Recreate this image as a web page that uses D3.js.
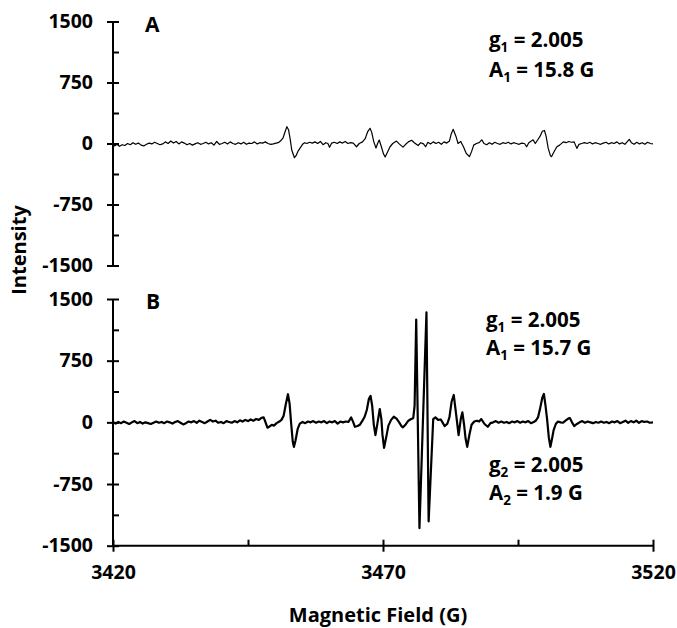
<!DOCTYPE html>
<html>
<head>
<meta charset="utf-8">
<script src="https://cdn.jsdelivr.net/npm/d3@7"></script>
<style>
  body { margin: 0; background: #fff; }
  text { font-family: "Open Sans", "Liberation Sans", sans-serif; font-weight: 700; fill: #000; }
</style>
</head>
<body>
<div id="chart"></div>
<script>
// EPR spectra, two stacked panels sharing the field axis

// field axis
var fieldDomain = [3420, 3520];
var fieldTicks = [3420, 3470, 3520];
var fieldMinorTicks = [3445, 3495];

// intensity axis (same for both panels)
var intensityDomain = [-1500, 1500];
var intensityTicks = [-1500, -750, 0, 750, 1500];
var intensityMinorTicks = [-1125, -375, 375, 1125];

// panel A trace [field (G), intensity]
var traceA = [
  [3420.0, -5], [3420.3, -30], [3420.7, -10], [3421.2, -35], [3421.7, -15], [3422.2, -25],
  [3422.7, 0], [3423.2, -15], [3423.7, 10], [3424.2, -10], [3424.7, 5], [3425.2, -20],
  [3425.7, -30], [3426.2, -10], [3426.7, 5], [3427.2, -5], [3427.7, 15], [3428.2, 0],
  [3428.7, -15], [3429.2, -5], [3429.7, 20], [3430.2, 0], [3430.7, 30], [3431.2, 5],
  [3431.7, 25], [3432.2, -5], [3432.7, 20], [3433.2, 5], [3433.7, -15], [3434.2, 0],
  [3434.7, -20], [3435.2, -5], [3435.7, 10], [3436.2, -10], [3436.7, 0], [3437.2, 15],
  [3437.7, -5], [3438.2, 10], [3438.7, -20], [3439.2, 25], [3439.7, -10], [3440.2, 0],
  [3440.7, 15], [3441.2, -5], [3441.7, 20], [3442.2, 0], [3442.7, -10], [3443.2, 10],
  [3443.7, -5], [3444.2, 15], [3444.7, -10], [3445.2, 5], [3445.7, 0], [3446.2, 20],
  [3446.7, -5], [3447.2, 10], [3447.7, 5], [3448.2, 20], [3448.7, 0], [3449.2, -10],
  [3449.7, -5], [3450.2, 5], [3450.6, 10], [3451.0, 30], [3451.5, 70], [3451.9, 150],
  [3452.2, 207], [3452.5, 170], [3452.8, 60], [3453.1, -80], [3453.6, -175], [3453.9, -150],
  [3454.3, -90], [3454.7, -50], [3455.1, -10], [3455.5, 10], [3455.9, 0], [3456.4, 15],
  [3456.9, 5], [3457.4, 20], [3457.9, 0], [3458.4, 25], [3458.9, -15], [3459.4, 10],
  [3459.8, 0], [3460.1, -47], [3460.5, 5], [3461.0, 15], [3461.5, 0], [3462.0, 20],
  [3462.5, 5], [3463.0, 25], [3463.5, 0], [3464.0, 10], [3464.5, 5], [3465.1, -40],
  [3465.6, 0], [3466.2, 20], [3466.7, 60], [3467.2, 150], [3467.6, 187], [3467.9, 140],
  [3468.3, 20], [3468.7, -55], [3469.0, 0], [3469.3, 43], [3469.7, -40], [3470.1, -130],
  [3470.4, -165], [3470.8, -110], [3471.3, -40], [3471.8, 0], [3472.5, 30], [3473.0, -5],
  [3473.7, -45], [3474.2, -10], [3474.7, 20], [3475.3, 40], [3475.8, 10], [3476.5, -25],
  [3477.0, 10], [3477.5, -5], [3477.9, -40], [3478.3, 15], [3478.8, -5], [3479.3, 20],
  [3479.8, 0], [3480.3, 15], [3480.8, -10], [3481.3, 20], [3481.8, 5], [3482.3, 30],
  [3482.6, 110], [3483.0, 175], [3483.5, 90], [3483.9, 0], [3484.4, 25], [3484.9, -40],
  [3485.4, -120], [3486.0, -162], [3486.4, -100], [3486.8, -20], [3487.3, 0], [3487.8, 10],
  [3488.3, 45], [3488.7, 0], [3489.2, -15], [3489.7, 10], [3490.2, -10], [3490.7, 15],
  [3491.2, 0], [3491.7, -10], [3492.2, 10], [3492.7, 0], [3493.2, 15], [3493.7, -5],
  [3494.2, 10], [3494.7, 0], [3495.2, -10], [3495.7, 5], [3496.2, 0], [3496.6, -40],
  [3497.0, 10], [3497.8, 45], [3498.2, 0], [3498.6, 40], [3499.1, 90], [3499.5, 150],
  [3499.9, 160], [3500.2, 90], [3500.6, -60], [3501.0, -150], [3501.2, -162], [3501.6, -110],
  [3502.2, -40], [3502.7, -20], [3503.4, 20], [3503.9, 10], [3504.4, 25], [3504.9, 15],
  [3505.4, 20], [3505.9, -60], [3506.3, -10], [3506.8, 0], [3507.3, 10], [3507.8, 0],
  [3508.3, 15], [3508.8, -5], [3509.3, 10], [3509.8, 0], [3510.3, -10], [3510.8, 5],
  [3511.3, 15], [3511.8, -5], [3512.3, 10], [3512.8, 0], [3513.3, 20], [3513.8, -5],
  [3514.3, 10], [3514.8, -10], [3515.2, 20], [3515.6, 50], [3516.0, 10], [3516.5, -10],
  [3517.0, 15], [3517.5, -5], [3518.0, 10], [3518.5, -10], [3519.0, 15], [3519.5, 0],
  [3520.0, -5]
];

// panel B trace [field (G), intensity]
var traceB = [
  [3420.0, 0], [3420.5, -15], [3421.0, 5], [3421.5, -10], [3422.0, 10], [3422.5, -5],
  [3423.0, -20], [3423.5, 0], [3424.0, 15], [3424.5, -10], [3425.0, 5], [3425.5, -15],
  [3426.0, 0], [3426.5, -10], [3427.0, -20], [3427.5, -5], [3428.0, 10], [3428.5, -5],
  [3429.0, 5], [3429.5, -10], [3430.0, 10], [3430.5, 0], [3431.0, -15], [3431.5, 5],
  [3432.0, 15], [3432.5, -5], [3433.0, -25], [3433.5, -10], [3434.0, 10], [3434.5, 0],
  [3435.0, 15], [3435.5, -5], [3436.0, 20], [3436.5, 5], [3437.0, -10], [3437.5, 10],
  [3438.0, 30], [3438.5, 10], [3439.0, 20], [3439.5, -5], [3440.0, 5], [3440.5, -10],
  [3441.0, 15], [3441.5, 5], [3442.0, -5], [3442.5, 15], [3443.0, 0], [3443.5, 25],
  [3444.0, 10], [3444.5, 30], [3445.0, 15], [3445.5, 35], [3446.0, 20], [3446.5, 40],
  [3447.0, 30], [3447.5, 55], [3447.9, 60], [3448.2, 10], [3448.6, -65], [3449.0, -50],
  [3449.4, -30], [3449.8, -40], [3450.3, -10], [3450.8, 10], [3451.2, 30], [3451.6, 80],
  [3452.0, 220], [3452.4, 342], [3452.7, 230], [3453.0, -20], [3453.3, -240], [3453.5, -298],
  [3453.8, -220], [3454.2, -80], [3454.6, -15], [3455.1, 5], [3455.6, -10], [3456.1, 10],
  [3456.6, 0], [3457.1, 15], [3457.6, -5], [3458.1, 10], [3458.6, 0], [3459.1, 15],
  [3459.6, -10], [3460.1, 10], [3460.6, 0], [3461.1, 15], [3461.6, -15], [3462.1, 10],
  [3462.6, 0], [3463.1, 10], [3463.6, 5], [3464.1, 61], [3464.5, 0], [3464.8, -54],
  [3465.3, -45], [3465.7, -30], [3466.2, 20], [3466.6, 68], [3467.0, 150], [3467.4, 290],
  [3467.7, 321], [3468.0, 200], [3468.3, -30], [3468.6, -155], [3469.0, 0], [3469.4, 162],
  [3469.7, 40], [3469.9, -150], [3470.2, -310], [3470.6, -180], [3471.0, -40], [3471.5, 30],
  [3472.0, 68], [3472.5, 45], [3473.0, 0], [3473.4, -45], [3473.7, -61], [3474.2, -25],
  [3474.7, 20], [3475.2, 40], [3475.6, 50], [3475.85, 200], [3476.15, 1249], [3476.75, -1286],
  [3478.05, 1337], [3478.45, -1204], [3479.3, 40], [3479.7, 60], [3480.2, 30], [3480.7, 35],
  [3481.1, -10], [3481.4, -45], [3481.9, -20], [3482.3, 60], [3482.7, 250], [3483.1, 333],
  [3483.5, 120], [3484.0, -155], [3484.4, 40], [3484.7, 122], [3485.0, -20], [3485.3, -200],
  [3485.6, -298], [3486.0, -150], [3486.4, -30], [3486.9, 10], [3487.4, 20], [3487.8, 10],
  [3488.2, 40], [3488.8, -20], [3489.4, -54], [3489.9, -10], [3490.4, 0], [3490.9, 15],
  [3491.4, -5], [3491.9, 10], [3492.4, -5], [3492.9, 5], [3493.4, -10], [3493.9, 10],
  [3494.4, 0], [3494.9, 15], [3495.4, -5], [3495.9, 10], [3496.4, 0], [3496.9, 15],
  [3497.4, -10], [3497.9, 5], [3498.3, 20], [3498.7, 60], [3499.1, 170], [3499.5, 300],
  [3499.8, 345], [3500.1, 200], [3500.4, 30], [3500.7, -180], [3501.0, -298], [3501.3, -200],
  [3501.6, -94], [3502.0, -20], [3502.4, 10], [3502.9, 0], [3503.3, -5], [3503.8, 20],
  [3504.3, 45], [3504.6, 52], [3505.0, 0], [3505.4, -45], [3505.9, -20], [3506.4, 0],
  [3506.9, 15], [3507.4, -5], [3507.9, 10], [3508.4, 0], [3508.9, -10], [3509.4, 5],
  [3509.9, -5], [3510.4, 10], [3510.9, -5], [3511.4, 5], [3511.9, -10], [3512.4, 10],
  [3512.9, 0], [3513.4, 15], [3513.9, -10], [3514.4, 5], [3514.9, 20], [3515.4, -5],
  [3515.9, 15], [3516.4, 0], [3516.9, 20], [3517.4, -5], [3517.9, 15], [3518.4, 5],
  [3518.9, 10], [3519.4, -5], [3520.0, 0]
];

// fit parameters written on each panel
var labelsA = [["g", "1", " = 2.005"], ["A", "1", " = 15.8 G"]];
var labelsB1 = [["g", "1", " = 2.005"], ["A", "1", " = 15.7 G"]];
var labelsB2 = [["g", "2", " = 2.005"], ["A", "2", " = 1.9 G"]];

// Chart size
var svgWidth = 677;
var svgHeight = 628;

var svg = d3.select("#chart")
  .append("svg")
  .attr("width", svgWidth)
  .attr("height", svgHeight);

var fontStack = "'Open Sans', 'Liberation Sans', sans-serif";

// scales
var xScale = d3.scaleLinear().domain(fieldDomain).range([113, 653]);
var yScaleA = d3.scaleLinear().domain(intensityDomain).range([265.5, 21.5]);
var yScaleB = d3.scaleLinear().domain(intensityDomain).range([545.7, 299]);

function styleTickText(g) {
  g.selectAll(".tick text")
    .style("font-size", "19.5px")
    .style("font-family", fontStack)
    .style("font-weight", "700")
    .attr("fill", "#000");
}

// draw one left axis: major ticks cross the line, minor ticks point inward
function drawYAxis(yScale) {
  var g = svg.append("g")
    .attr("transform", `translate(${xScale(fieldDomain[0])}, 0)`);

  g.call(d3.axisLeft(yScale).tickValues(intensityTicks).tickSize(6).tickPadding(14).tickFormat(d => String(d)));
  g.selectAll(".tick line").attr("x2", -6).attr("x1", 6);

  g.append("g")
    .call(d3.axisLeft(yScale).tickValues(intensityMinorTicks).tickSize(-6).tickFormat(""))
    .select(".domain").remove();

  g.selectAll(".domain").attr("stroke", "#000").attr("stroke-width", 2)
    .attr("d", `M0,${yScale.range()[0]}V${yScale.range()[1]}`);
  g.selectAll(".tick line").attr("stroke", "#000").attr("stroke-width", 2);
  styleTickText(g);
  return g;
}

drawYAxis(yScaleA);
drawYAxis(yScaleB);

// bottom field axis under panel B
var xAxisG = svg.append("g")
  .attr("transform", `translate(0, ${yScaleB(intensityDomain[0])})`);

xAxisG.call(d3.axisBottom(xScale).tickValues(fieldTicks).tickSize(6).tickPadding(13).tickFormat(d => String(d)));
xAxisG.selectAll(".tick line").attr("y1", -6).attr("y2", 6);
xAxisG.append("g")
  .call(d3.axisBottom(xScale).tickValues(fieldMinorTicks).tickSize(-6).tickFormat(""))
  .select(".domain").remove();
xAxisG.selectAll(".domain").attr("stroke", "#000").attr("stroke-width", 2)
  .attr("d", `M${xScale.range()[0]},0H${xScale.range()[1]}`);
xAxisG.selectAll(".tick line").attr("stroke", "#000").attr("stroke-width", 2);
styleTickText(xAxisG);

// traces
var lineA = d3.line()
  .x(d => xScale(d[0]))
  .y(d => yScaleA(d[1]));

var lineB = d3.line()
  .x(d => xScale(d[0]))
  .y(d => yScaleB(d[1]));

svg.append("path")
  .datum(traceA)
  .attr("d", lineA)
  .attr("fill", "none")
  .attr("stroke", "#000")
  .attr("stroke-width", 1.2)
  .attr("stroke-linejoin", "round");

svg.append("path")
  .datum(traceB)
  .attr("d", lineB)
  .attr("fill", "none")
  .attr("stroke", "#000")
  .attr("stroke-width", 2.2)
  .attr("stroke-linejoin", "round");

// panel letters
svg.append("text").attr("x", 145).attr("y", 32).style("font-size", "21px").text("A");
svg.append("text").attr("x", 146).attr("y", 309).style("font-size", "21px").text("B");

// fit parameter text blocks with subscripts
function addParams(lines, x, y0, step) {
  lines.forEach(function(p, i) {
    var t = svg.append("text")
      .attr("x", x)
      .attr("y", y0 + i * step)
      .style("font-size", "20.5px");
    t.append("tspan").text(p[0]);
    t.append("tspan").attr("dy", 5).style("font-size", "13.5px").text(p[1]);
    t.append("tspan").attr("dy", -5).text(p[2]);
  });
}

addParams(labelsA, 489, 47, 30);
addParams(labelsB1, 486, 327, 28);
addParams(labelsB2, 489, 472, 28);

// axis titles
svg.append("text")
  .attr("transform", "rotate(-90)")
  .attr("x", -250)
  .attr("y", 26)
  .attr("text-anchor", "middle")
  .style("font-size", "20px")
  .text("Intensity");

svg.append("text")
  .attr("x", 378)
  .attr("y", 622)
  .attr("text-anchor", "middle")
  .style("font-size", "20px")
  .text("Magnetic Field (G)");
</script>
</body>
</html>
